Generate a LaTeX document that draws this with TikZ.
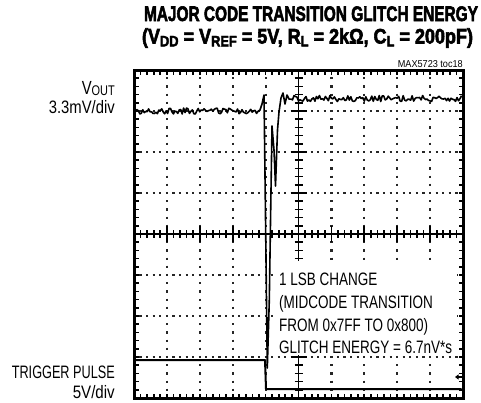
\documentclass[tikz,border=0pt]{standalone}
\usepackage{fontspec}
\usepackage{graphicx}
\usetikzlibrary{arrows.meta}
\setmainfont{Liberation Sans}
\newfontfamily\boxfont{Liberation Sans}[FakeStretch=0.75]
\newfontfamily\titlefont{Liberation Sans Bold}[FakeBold=3]
\newcommand{\hfit}[2]{\resizebox{#1}{\height}{#2}}
\newcommand{\tsub}[1]{\raisebox{-2.8pt}{\fontsize{15}{15}\selectfont #1}}
\begin{document}
\begin{tikzpicture}[x=1pt,y=-1pt,
  frame/.style={line width=3pt},
  gridv/.style={line width=2.2pt, dash pattern=on 2.2pt off 6pt, dash phase=1.1pt, black!85},
  gridh/.style={line width=2.2pt, dash pattern=on 2.2pt off 4.38pt, dash phase=1.1pt, black!85},
  axisline/.style={line width=1.8pt},
  tickline/.style={line width=1.7pt},
  trace/.style={line width=1.6pt, line join=round},
  lbl/.style={inner sep=0pt, anchor=base east, font=\fontsize{18}{18}\selectfont},
  boxtxt/.style={inner sep=0pt, anchor=base west, font=\boxfont\fontsize{18}{18}\selectfont},
  ttl/.style={inner sep=0pt, anchor=base, font=\titlefont\fontsize{21}{22}\selectfont}
]
\useasboundingbox (0,0) rectangle (481,402);
% dotted grid
\foreach \i in {1,2,3,4,6,7,8,9} \draw[gridv] ({134+\i*32.9},70) -- ({134+\i*32.9},398);
\foreach \j in {1,2,3,5,6,7} \draw[gridh] (134,{70+\j*41}) -- (463,{70+\j*41});
% centre axes
\draw[axisline] (134,234) -- (463,234);
\draw[axisline] (298.5,70) -- (298.5,398);
\foreach \i in {1,...,49} \draw[tickline] ({134+\i*6.58},230) -- ++(0,8);
\foreach \i in {1,...,9} \draw[tickline] ({134+\i*32.9},226) -- ++(0,16);
\foreach \j in {1,...,39} \draw[tickline] (294.5,{70+\j*8.2}) -- ++(8,0);
\foreach \j in {1,...,7} \draw[tickline] (290.5,{70+\j*41}) -- ++(16,0);
% frame ticks
\foreach \i in {1,...,49} {
  \draw[tickline] ({134+\i*6.58},70) -- ++(0,4.5);
  \draw[tickline] ({134+\i*6.58},398) -- ++(0,-4.5);
}
\foreach \j in {1,...,39} {
  \draw[tickline] (134,{70+\j*8.2}) -- ++(4.5,0);
  \draw[tickline] (463,{70+\j*8.2}) -- ++(-4.5,0);
}
% white area behind annotation
\fill[white] (274,261) rectangle (457,355);
% frame
\draw[frame] (134,70) rectangle (463,398);
% traces
\pgfmathsetseed{7}
\draw[trace] plot[domain=135.5:258, samples=85] (\x,{111+3*rand})
  -- (260,110) -- (262,104) -- (264,95) -- (265.3,200) -- (267.3,368) -- (269.3,300)
  -- (272,126) -- (274,150) -- (275.5,186) -- (277.5,130) -- (279,112) -- (281,98)
  -- (283,93) -- (285,104) -- (287,95) -- (289,99)
  -- plot[domain=291:461.5, samples=115] (\x,{98.5+3*rand});
\draw[trace, line width=2pt] (135.5,360) -- (265,360) -- (266,389) -- (461.5,389);
% trigger level marker
\coordinate (mk1) at (462,377);
\coordinate (mk2) at (455,377);
\draw[line width=1.2pt, -{Triangle[length=3.5pt,width=5pt]}] (mk1) -- (mk2);
% titles
\node[ttl] (t1) at (311,21) {\hfit{334pt}{MAJOR CODE TRANSITION GLITCH ENERGY}};
\node[ttl] (t2) at (307.5,43.5) {\hfit{331pt}{(V\tsub{DD} = V\tsub{REF} = 5V, R\tsub{L} = 2kΩ, C\tsub{L} = 200pF)}};
\node[inner sep=0pt, anchor=base east, font=\fontsize{10}{10}\selectfont] (toc) at (463,67) {\hfit{65pt}{MAX5723 toc18}};
% left labels
\node[lbl] (vout) at (115,94) {\hfit{33pt}{\fontsize{19}{19}\selectfont V\raisebox{-1pt}{\fontsize{14}{14}\selectfont OUT}}};
\node[lbl] (vdiv) at (115,113) {\hfit{66pt}{3.3mV/div}};
\node[lbl] (trig) at (115,378) {\hfit{103pt}{TRIGGER PULSE}};
\node[lbl] (tdiv) at (115,398) {\hfit{42pt}{5V/div}};
% annotation
\node[boxtxt] (a1) at (279,285) {1 LSB CHANGE};
\node[boxtxt] (a2) at (279,308) {(MIDCODE TRANSITION};
\node[boxtxt] (a3) at (279,331) {FROM 0x7FF TO 0x800)};
\node[boxtxt] (a4) at (279,353.5) {GLITCH ENERGY = 6.7nV*s};
\end{tikzpicture}
\end{document}
